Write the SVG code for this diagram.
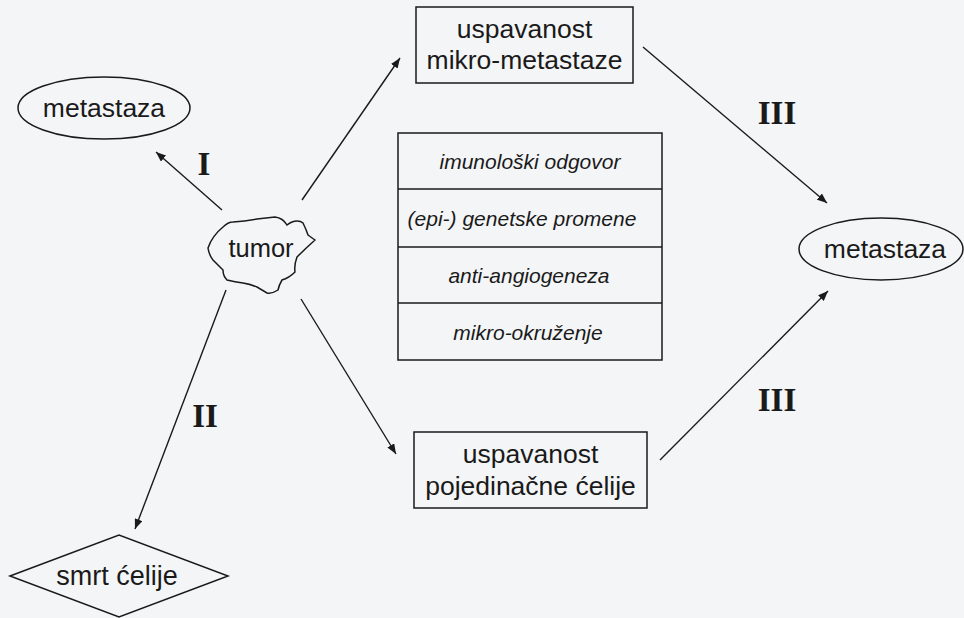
<svg xmlns="http://www.w3.org/2000/svg" width="964" height="618" viewBox="0 0 964 618">
<defs>
<marker id="ah" viewBox="0 0 10 8" refX="10" refY="4" markerWidth="10" markerHeight="8" markerUnits="userSpaceOnUse" orient="auto">
<path d="M0,0 L10,4 L0,8 z" fill="#1a1a1a"/>
</marker>
<style>
.shape{fill:none;stroke:#1a1a1a;stroke-width:1.5}
.lbl{font-family:"Liberation Sans",Arial,sans-serif;font-size:26.5px;fill:#1a1a1a;text-anchor:middle}
.it{font-family:"Liberation Sans",Arial,sans-serif;font-size:21px;font-style:italic;fill:#1a1a1a;text-anchor:middle}
.rom{font-family:"Liberation Serif","Times New Roman",serif;font-size:33px;font-weight:bold;fill:#1a1a1a;text-anchor:middle}
.edge{stroke:#1a1a1a;stroke-width:1.4;fill:none;marker-end:url(#ah)}
</style>
</defs>
<rect width="964" height="618" fill="#f4f5f7"/>

<g id="connectors">
<line class="edge" x1="222" y1="210" x2="156" y2="152"/>
<line class="edge" x1="302" y1="200" x2="400" y2="58"/>
<line class="edge" x1="301" y1="299" x2="396" y2="454"/>
<line class="edge" x1="226" y1="290" x2="135" y2="529"/>
<line class="edge" x1="643" y1="47" x2="827" y2="203"/>
<line class="edge" x1="660" y1="460" x2="828" y2="291"/>
<text class="rom" x="204" y="175">I</text>
<text class="rom" x="205" y="427">II</text>
<text class="rom" x="777" y="124">III</text>
<text class="rom" x="777" y="411">III</text>
</g>

<g id="metastaza-left">
<ellipse class="shape" cx="104" cy="108" rx="86" ry="31"/>
<text class="lbl" x="104" y="117">metastaza</text>
</g>

<g id="tumor">
<path class="shape" d="M208,248 Q212,236 223,227 Q228,222 233,222 Q245,221 257,219 Q266,218 275,217 Q283,218 287,225 Q292,221 297,221 Q301,221 303,223 Q306,229 308,235 Q312,238 315,240 Q306,248 297,257 Q294,265 295,272 Q289,278 282,280 Q279,285 278,290 Q272,294 267,293 Q262,290 257,287 Q250,284 243,283 Q235,282 227,280 Q223,276 223,270 Q218,265 213,260 Q209,255 208,248 Z"/>
<text class="lbl" x="261" y="257" style="font-size:25.5px">tumor</text>
</g>

<g id="box-mikro">
<rect class="shape" x="416" y="7" width="217" height="76"/>
<text class="lbl" x="524.5" y="38">uspavanost</text>
<text class="lbl" x="524.5" y="69">mikro-metastaze</text>
</g>

<g id="table">
<rect class="shape" x="398" y="133" width="264" height="227"/>
<line class="shape" x1="398" y1="189" x2="662" y2="189"/>
<line class="shape" x1="398" y1="247" x2="662" y2="247"/>
<line class="shape" x1="398" y1="303" x2="662" y2="303"/>
<text class="it" x="530" y="169">imunološki odgovor</text>
<text class="it" x="522" y="226">(epi-) genetske promene</text>
<text class="it" x="529" y="283">anti-angiogeneza</text>
<text class="it" x="528" y="340">mikro-okruženje</text>
</g>

<g id="box-pojedinacne">
<rect class="shape" x="414" y="432" width="233" height="76"/>
<text class="lbl" x="530.5" y="463">uspavanost</text>
<text class="lbl" x="530.5" y="495">pojedinačne ćelije</text>
</g>

<g id="metastaza-right">
<ellipse class="shape" cx="881" cy="249" rx="82" ry="31"/>
<text class="lbl" x="885" y="258">metastaza</text>
</g>

<g id="smrt-celije">
<polygon class="shape" points="10,576 119,535 228,576 119,617"/>
<text class="lbl" x="117" y="585" style="font-size:27px">smrt ćelije</text>
</g>
</svg>
